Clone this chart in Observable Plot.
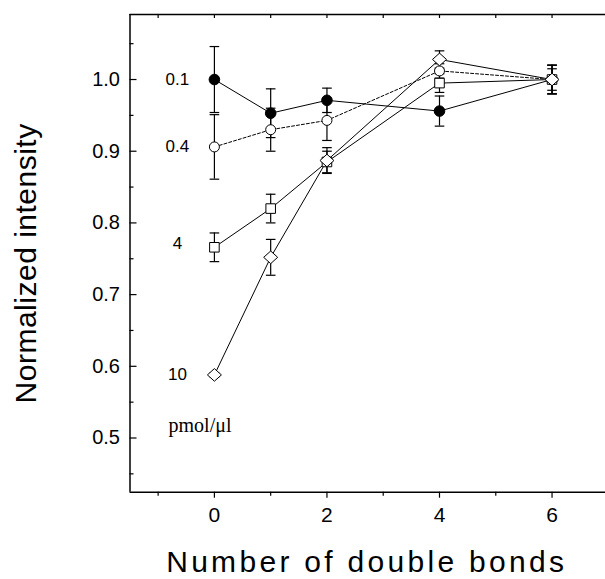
<!DOCTYPE html>
<html>
<head>
<meta charset="utf-8">
<script src="https://cdn.jsdelivr.net/npm/d3@7"></script>
<script src="https://cdn.jsdelivr.net/npm/@observablehq/plot@0.6"></script>
<style>
  html, body { margin: 0; padding: 0; background: #fff; }
  #chart svg { display: block; }
</style>
</head>
<body>
<div id="chart"></div>
<script>
// ---- data ----
const doubleBonds = [0, 1, 2, 4, 6];
const concentrations = ["0.1", "0.4", "4", "10"];
const values01 = [1.000, 0.953, 0.971, 0.956, 1.000];
const errors01 = [0.046, 0.034, 0.017, 0.021, 0.020];
const values04 = [0.906, 0.930, 0.943, 1.012, 1.000];
const errors04 = [0.045, 0.030, 0.028, 0.010, 0.020];
const values4  = [0.766, 0.820, 0.885, 0.995, 1.000];
const errors4  = [0.020, 0.020, 0.015, 0.013, 0.015];
const values10 = [0.588, 0.752, 0.887, 1.028, 1.000];
const errors10 = [0.003, 0.025, 0.018, 0.012, 0.020];
const yMajorTicks = [0.5, 0.6, 0.7, 0.8, 0.9, 1.0];
const yMinorTicks = [0.45, 0.55, 0.65, 0.75, 0.85, 0.95, 1.05];
const xMajorTicks = [0, 2, 4, 6];
const xMinorTicks = [-1, 1, 3, 5];
const xTopTicks = [-1, 0, 1, 2, 3, 4, 5, 6];
const unitLabel = "pmol/\u03bcl";
const xTitle = "Number of double bonds";
const yTitle = "Normalized intensity";

const seriesValues = [values01, values04, values4, values10];
const seriesErrors = [errors01, errors04, errors4, errors10];
const rows = [];
concentrations.forEach((c, i) => {
  doubleBonds.forEach((x, j) => {
    const v = seriesValues[i][j], e = seriesErrors[i][j];
    rows.push({conc: c, x, y: v, lo: v - e, hi: v + e});
  });
});
const firstPoints = rows.filter(d => d.x === 0);
const bySeries = c => rows.filter(d => d.conc === c);

// custom symbols
const hbar = {draw(ctx, size) { const r = Math.sqrt(size / Math.PI); ctx.moveTo(-r, 0); ctx.lineTo(r, 0); }};
const diamond = {draw(ctx, size) { const r = Math.sqrt(size / Math.PI); ctx.moveTo(0, -r * 0.9); ctx.lineTo(r, 0); ctx.lineTo(0, r * 0.9); ctx.lineTo(-r, 0); ctx.closePath(); }};

const xDomain = [-1.5, 6.95];
const yDomain = [0.4244, 1.0907];
const noText = () => "";

const chart = Plot.plot({
  width: 605,
  height: 579,
  marginLeft: 129.5,
  marginRight: 0,
  marginTop: 14,
  marginBottom: 87.3,
  x: {domain: xDomain, label: null},
  y: {domain: yDomain, label: null},
  style: {fontFamily: "'Liberation Sans', Arial, sans-serif", background: "#fff", color: "#000"},
  marks: [
    // frame
    Plot.ruleX([xDomain[0]], {stroke: "#000", strokeWidth: 1.5}),
    Plot.ruleY([yDomain[1]], {stroke: "#000", strokeWidth: 1.5}),
    Plot.ruleY([yDomain[0]], {stroke: "#000", strokeWidth: 1.5}),
    // y axis
    Plot.axisY({ticks: yMajorTicks, tickSize: -7, tickFormat: noText, label: null, strokeWidth: 1.2}),
    Plot.axisY({ticks: yMinorTicks, tickSize: -4, tickFormat: noText, label: null, strokeWidth: 1.2}),
    Plot.axisY({ticks: yMajorTicks, tickSize: 0, tickPadding: 10, tickFormat: d3.format(".1f"), label: null, fontSize: 20}),
    // x axis
    Plot.axisX({ticks: xMajorTicks, tickSize: 6, tickFormat: noText, label: null, strokeWidth: 1.2}),
    Plot.axisX({ticks: xMinorTicks, tickSize: 4, tickFormat: noText, label: null, strokeWidth: 1.2}),
    Plot.axisX({ticks: xMajorTicks, tickSize: 0, tickPadding: 15, label: null, fontSize: 21}),
    Plot.axisX({anchor: "top", ticks: xTopTicks, tickSize: -3, tickFormat: noText, label: null, strokeWidth: 1.2}),
    // titles
    Plot.text([xTitle], {frameAnchor: "bottom", dy: 70, dx: -1, fontSize: 30, textAnchor: "middle", lineAnchor: "middle", text: d => d}),
    Plot.text([yTitle], {frameAnchor: "left", dx: -104, dy: 10, rotate: -90, fontSize: 30, textAnchor: "middle", lineAnchor: "middle", text: d => d}),
    // connecting lines
    Plot.line(bySeries("0.1"), {x: "x", y: "y", stroke: "#000", strokeWidth: 1}),
    Plot.line(bySeries("0.4"), {x: "x", y: "y", stroke: "#000", strokeWidth: 1, strokeDasharray: "3,2"}),
    Plot.line(bySeries("4"), {x: "x", y: "y", stroke: "#000", strokeWidth: 1}),
    Plot.line(bySeries("10"), {x: "x", y: "y", stroke: "#000", strokeWidth: 1}),
    // error bars
    Plot.ruleX(rows, {x: "x", y1: "lo", y2: "hi", stroke: "#000", strokeWidth: 1.2}),
    Plot.dot(rows, {x: "x", y: "lo", symbol: hbar, r: 4.8, stroke: "#000", strokeWidth: 1.2, fill: "none"}),
    Plot.dot(rows, {x: "x", y: "hi", symbol: hbar, r: 4.8, stroke: "#000", strokeWidth: 1.2, fill: "none"}),
    // markers
    Plot.dot(bySeries("0.1"), {x: "x", y: "y", symbol: "circle", r: 5.3, fill: "#000", stroke: "#000", strokeWidth: 1}),
    Plot.dot(bySeries("0.4"), {x: "x", y: "y", symbol: "circle", r: 5, fill: "#fff", stroke: "#000", strokeWidth: 1}),
    Plot.dot(bySeries("4"), {x: "x", y: "y", symbol: "square", r: 5.4, fill: "#fff", stroke: "#000", strokeWidth: 1}),
    Plot.dot(bySeries("10"), {x: "x", y: "y", symbol: diamond, r: 7, fill: "#fff", stroke: "#000", strokeWidth: 1}),
    // series labels
    Plot.text(firstPoints.filter(d => d.conc !== "4"), {x: "x", y: "y", text: "conc", dx: -37, fontSize: 17, textAnchor: "middle"}),
    Plot.text(firstPoints.filter(d => d.conc === "4"), {x: "x", y: "y", text: "conc", dx: -37, dy: -4, fontSize: 17, textAnchor: "middle"}),
    Plot.text([unitLabel], {frameAnchor: "bottom-left", dx: 70, dy: -60, text: d => d, fontSize: 20, fontFamily: "'Liberation Serif', 'Times New Roman', serif", textAnchor: "middle"})
  ]
});
// letter spacing of the axis titles (not a Plot text option)
d3.select(chart).selectAll("text").each(function() {
  const t = this.textContent;
  if (t === xTitle) this.style.letterSpacing = "3.3px";
  if (t === yTitle) this.style.letterSpacing = "0.5px";
});
document.getElementById("chart").appendChild(chart);
</script>
</body>
</html>
